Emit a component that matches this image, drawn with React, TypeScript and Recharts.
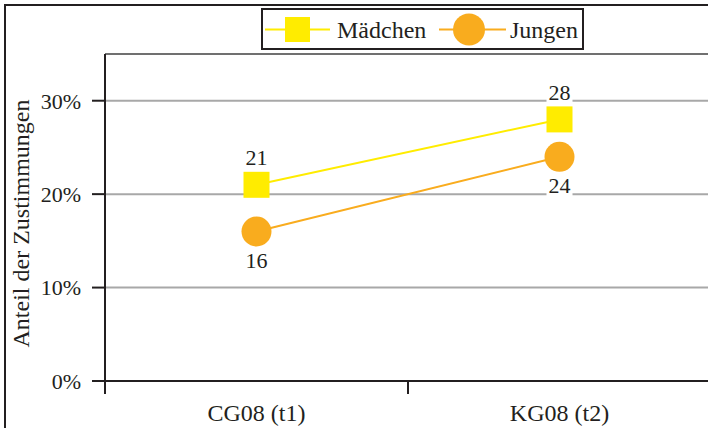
import React from "react";
import {
  LineChart,
  Line,
  XAxis,
  YAxis,
  CartesianGrid,
  ReferenceLine,
  Legend,
  LabelList,
} from "recharts";

const categories = ["CG08 (t1)", "KG08 (t2)"];
const maedchen = [21, 28];
const jungen = [16, 24];
const yTicks = [0, 10, 20, 30];
const seriesNames = ["Mädchen", "Jungen"];
const yAxisTitle = "Anteil der Zustimmungen";

const YELLOW = "#FFEC00";
const ORANGE = "#F9AC1E";
const DARK = "#231f20";
const FONT = '"Liberation Serif", "DejaVu Serif", "Noto Serif", Tinos, "Times New Roman", Times, serif';

const data = categories.map((c, i) => ({
  x: i + 0.5,
  name: c,
  maedchen: maedchen[i],
  jungen: jungen[i],
}));

const xTickValues = [0, 0.5, 1, 1.5, 2];

const txt = (size: number) => ({ fontFamily: FONT, fontSize: size });

const XTick = (props: any) => {
  const { x, y, payload } = props;
  const v = payload.value;
  if (Number.isInteger(v)) {
    return <line x1={x} x2={x} y1={y} y2={y + 13} stroke={DARK} strokeWidth={2} />;
  }
  const label = categories[Math.floor(v)];
  return (
    <text x={x} y={y + 23} dy="0.71em" textAnchor="middle" style={txt(24)} fill={DARK}>
      {label}
    </text>
  );
};

const YTick = (props: any) => {
  const { x, y, payload } = props;
  return (
    <text x={x} y={y} dy="0.355em" textAnchor="end" style={txt(22)} fill={DARK}>
      {`${payload.value}%`}
    </text>
  );
};

const YLabel = (props: any) => {
  const vb = props.viewBox || { y: 54, height: 327 };
  const cx = 21;
  const cy = vb.y + vb.height / 2 + 6;
  return (
    <text
      x={cx}
      y={cy}
      transform={`rotate(-90 ${cx} ${cy})`}
      textAnchor="middle"
      dominantBaseline="central"
      style={txt(24)}
      fill={DARK}
    >
      {yAxisTitle}
    </text>
  );
};

const makeBoxLabel = (offset: number) => (props: any) => {
  const x = props.x ?? props.viewBox?.x;
  const y = props.y ?? props.viewBox?.y;
  const cy = y + offset;
  return (
    <g key={`lbl-${offset}-${props.index}`}>
      <rect x={x - 13} y={cy - 11} width={26} height={22} fill="#fff" />
      <text x={x} y={cy} textAnchor="middle" dominantBaseline="central" style={txt(22)} fill={DARK}>
        {props.value}
      </text>
    </g>
  );
};

const SquareDot = (props: any) => {
  const { cx, cy, index } = props;
  return <rect key={`sq-${index}`} x={cx - 13} y={cy - 13} width={26} height={26} fill={YELLOW} />;
};

const CircleDot = (props: any) => {
  const { cx, cy, index } = props;
  return <circle key={`ci-${index}`} cx={cx} cy={cy} r={15} fill={ORANGE} />;
};

const LegendContent = () => (
  <svg width={323} height={42} style={{ display: "block" }}>
    <rect x={1} y={1} width={321} height={40} fill="#fff" stroke={DARK} strokeWidth={2} />
    <line x1={4} x2={69} y1={21.5} y2={21.5} stroke={YELLOW} strokeWidth={2} />
    <rect x={24} y={9} width={25} height={25} fill={YELLOW} />
    <text x={76} y={22} dominantBaseline="central" style={txt(24)} fill={DARK}>
      {seriesNames[0]}
    </text>
    <line x1={178} x2={245} y1={21.5} y2={21.5} stroke={ORANGE} strokeWidth={2} />
    <circle cx={208} cy={21.5} r={16} fill={ORANGE} />
    <text x={249} y={22} dominantBaseline="central" style={txt(24)} fill={DARK}>
      {seriesNames[1]}
    </text>
  </svg>
);

export default function App() {
  return (
    <div
      style={{
        position: "fixed",
        left: 0,
        top: 0,
        width: 708,
        height: 428,
        overflow: "hidden",
        background: "#fff",
        fontFamily: FONT,
      }}
    >
      <div
        style={{
          position: "absolute",
          left: 4,
          top: 4,
          width: 800,
          height: 500,
          borderTop: `2.5px solid ${DARK}`,
          borderLeft: `2.5px solid ${DARK}`,
        }}
      />
      <div style={{ position: "absolute", left: 0, top: 0 }}>
        <LineChart
          width={712}
          height={428}
          data={data}
          margin={{ top: 54, right: 1, bottom: 0, left: 0 }}
          style={{ fontFamily: FONT }}
        >
          <CartesianGrid horizontal vertical={false} stroke="#a8a8a8" strokeWidth={2} />
          <ReferenceLine y={35} stroke="#707070" strokeWidth={2} />
          <XAxis
            dataKey="x"
            type="number"
            domain={[0, 2]}
            ticks={xTickValues}
            interval={0}
            tickLine={false}
            tickSize={0}
            tickMargin={0}
            tick={XTick}
            axisLine={{ stroke: DARK, strokeWidth: 2 }}
            height={47}
          />
          <YAxis
            type="number"
            domain={[0, 35]}
            ticks={yTicks}
            interval={0}
            width={105}
            tickSize={13}
            tickMargin={11}
            tick={YTick}
            tickLine={{ stroke: DARK, strokeWidth: 2 }}
            axisLine={{ stroke: DARK, strokeWidth: 2 }}
            label={YLabel}
          />
          <Legend
            layout="vertical"
            align="center"
            verticalAlign="middle"
            content={LegendContent}
            wrapperStyle={{ position: "absolute", left: 261, top: 8, width: 323, height: 42 }}
          />
          <Line
            dataKey="maedchen"
            name={seriesNames[0]}
            stroke={YELLOW}
            strokeWidth={2}
            dot={SquareDot}
            activeDot={false}
            isAnimationActive={false}
          >
            <LabelList dataKey="maedchen" content={makeBoxLabel(-27)} />
          </Line>
          <Line
            dataKey="jungen"
            name={seriesNames[1]}
            stroke={ORANGE}
            strokeWidth={2}
            dot={CircleDot}
            activeDot={false}
            isAnimationActive={false}
          >
            <LabelList dataKey="jungen" content={makeBoxLabel(29)} />
          </Line>
        </LineChart>
      </div>
    </div>
  );
}
